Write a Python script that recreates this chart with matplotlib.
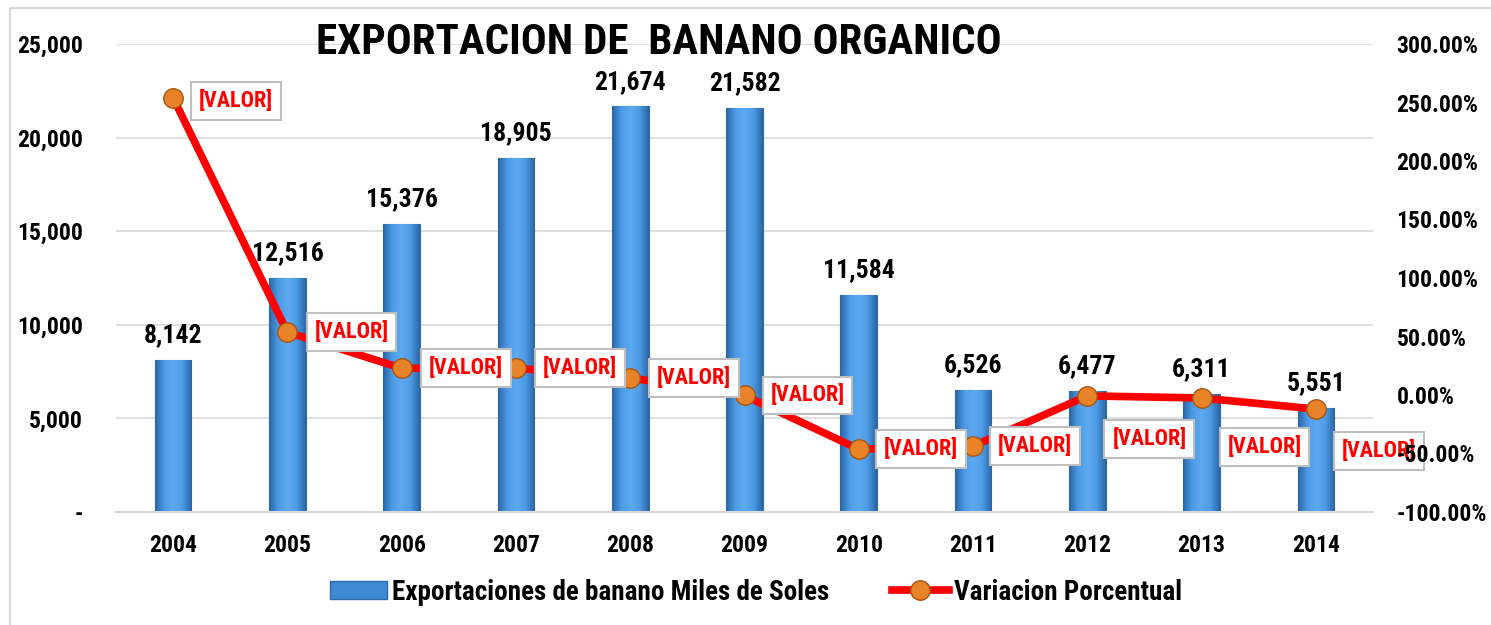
#!/usr/bin/env python3

import matplotlib
matplotlib.use("Agg")
from matplotlib.colors import LinearSegmentedColormap
from matplotlib.lines import Line2D
from matplotlib.patches import Patch, Rectangle
from matplotlib.pyplot import rcParams, subplots
from matplotlib.ticker import FuncFormatter
from numpy import arange, linspace

YEARS = ["2004", "2005", "2006", "2007", "2008", "2009",
         "2010", "2011", "2012", "2013", "2014"]
EXPORTS = [8142, 12516, 15376, 18905, 21674, 21582,
           11584, 6526, 6477, 6311, 5551]
VARIATION = [254.0, 53.7, 22.85, 22.95, 14.65, -0.42,
             -46.3, -43.7, -0.75, -2.56, -12.04]
LABEL_TEXT = "[VALOR]"
TITLE = "EXPORTACION DE  BANANO ORGANICO"
BAR_NAME = "Exportaciones de banano Miles de Soles"
LINE_NAME = "Variacion Porcentual"

# label offsets in pixels (right, down) from each point
LABEL_OFFSETS = [(63, 3), (64, 0), (64, 0), (64, 0), (64, 0), (63, 0),
                 (62, 0), (62, 0), (62, 43), (63, 49), (63, 42)]

rcParams["font.family"] = ["Roboto Condensed", "Liberation Sans",
                           "DejaVu Sans"]
rcParams["font.weight"] = "bold"

PX = 72.0 / 100.0
AX_POS = [116 / 1491, 1 - 512 / 625, 1257 / 1491, 468 / 625]


def main():
    fig, ax = subplots(figsize=(14.91, 6.25), dpi=100)
    ax.set_position(AX_POS)

    # light frame of the chart area (cropped at right and bottom)
    fig.patches.append(Rectangle(
        (10 / 1491, -0.1), 1.2, (625 - 8) / 625 + 0.1,
        transform=fig.transFigure, fill=False, edgecolor="#d9d9d9",
        lw=1.5, zorder=0))

    x = arange(len(YEARS))
    bars = ax.bar(x, EXPORTS, width=0.32, color="#3f88d2",
                  edgecolor="#2f6aa8", lw=0.8, zorder=2)
    cmap = LinearSegmentedColormap.from_list(
        "bar", ["#2a66a6", "#4c9be6", "#5eaaf0", "#4c9be6", "#2a66a6"])
    grad = linspace(0, 1, 64).reshape(1, -1)
    for bar in bars:
        x0 = bar.get_x()
        im = ax.imshow(grad, extent=(x0, x0 + bar.get_width(), 0,
                                     bar.get_height()),
                       aspect="auto", cmap=cmap, zorder=2.1)
        im.set_clip_path(bar)
    for xi, v in zip(x, EXPORTS):
        ax.annotate(f"{v:,}", (xi, v), xytext=(0, 9),
                    textcoords="offset points", ha="center", va="bottom",
                    fontsize=18.5, fontweight="bold", zorder=5)

    ax.set_xlim(-0.5, len(YEARS) - 0.5)
    ax.set_ylim(0, 25000)
    ax.set_yticks(range(0, 25001, 5000))
    ax.yaxis.set_major_formatter(FuncFormatter(
        lambda v, _: "-" if v == 0 else f"{v:,.0f}"))
    ax.set_xticks(x)
    ax.set_xticklabels(YEARS)
    ax.tick_params(axis="y", length=0, pad=24, labelsize=17)
    ax.tick_params(axis="x", length=0, pad=16, labelsize=17)
    ax.grid(axis="y", color="#d9d9d9", lw=1.2, zorder=0)
    ax.set_axisbelow(True)
    for edge in ["top", "right", "left"]:
        ax.spines[edge].set_visible(False)
    ax.spines["bottom"].set_color("#d9d9d9")
    ax.spines["bottom"].set_linewidth(1.5)

    ax2 = ax.twinx()
    ax2.set_position(AX_POS)
    ax2.plot(x, VARIATION, color="#ff0000", lw=5.5, marker="o",
             markersize=14, markerfacecolor="#e8832a",
             markeredgecolor="#a85412", markeredgewidth=1, zorder=3)
    ax2.set_ylim(-100, 300)
    ax2.set_yticks(range(-100, 301, 50))
    ax2.yaxis.set_major_formatter(FuncFormatter(lambda v, _: f"{v:.2f}%"))
    ax2.tick_params(axis="y", length=0, pad=17, labelsize=17)
    ax2.yaxis.set_zorder(7)
    for edge in ["top", "right", "left", "bottom"]:
        ax2.spines[edge].set_visible(False)
    for xi, v, (dx, dy) in zip(x, VARIATION, LABEL_OFFSETS):
        ax2.annotate(LABEL_TEXT, (xi, v), xytext=(dx * PX, -dy * PX),
                     textcoords="offset points", ha="center", va="center",
                     color="#ff0000", fontsize=16, fontweight="bold",
                     bbox=dict(boxstyle="square,pad=0.35", fc="white",
                               ec="#bfbfbf", lw=1.5),
                     zorder=6)

    fig.text(659 / 1491, 1 - 43 / 625, TITLE, ha="center", va="center",
             fontsize=31, fontweight="bold")

    handles = [
        Patch(facecolor="#3f88d2", edgecolor="#2f6aa8"),
        Line2D([], [], color="#ff0000", lw=5.5, marker="o", markersize=14,
               markerfacecolor="#e8832a", markeredgecolor="#a85412"),
    ]
    fig.legend(handles, [BAR_NAME, LINE_NAME], loc="center",
               bbox_to_anchor=(756 / 1491, 1 - 592 / 625), ncol=2,
               frameon=False, fontsize=19.5, handlelength=2.1,
               handleheight=0.6, handletextpad=0.2, columnspacing=2.3)

    fig.savefig("out.png", dpi=100)


if __name__ == "__main__":
    main()
